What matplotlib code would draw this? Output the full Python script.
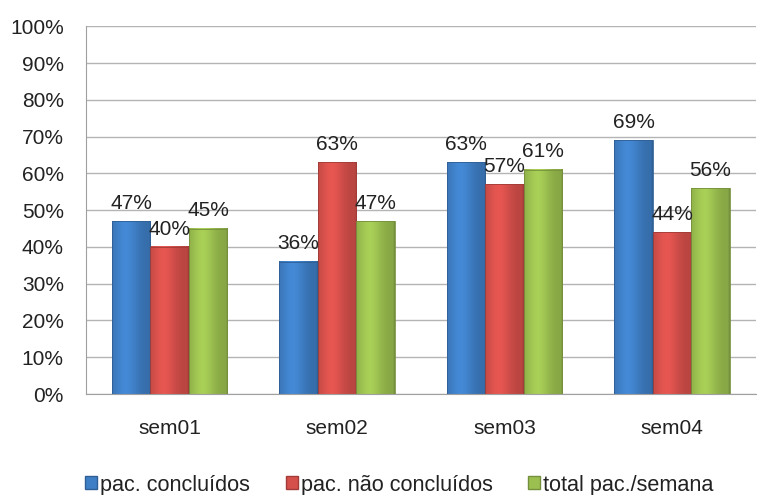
import matplotlib
matplotlib.use('agg')

import numpy as np
import matplotlib.pyplot as plt
import matplotlib.patches as pa
from matplotlib.colors import to_rgb

semanas = ['sem01', 'sem02', 'sem03', 'sem04']
concluidos = [47, 36, 63, 69]
nao_concluidos = [40, 63, 57, 44]
total_semana = [45, 47, 61, 56]

series = [
    ('pac. concluídos', concluidos, '#3f7fc6'),
    ('pac. não concluídos', nao_concluidos, '#d6504b'),
    ('total pac./semana', total_semana, '#9cc050'),
]

plt.rcParams['font.family'] = ['Liberation Sans', 'DejaVu Sans']
FS = 15


def shaded(color, n=60):
    # horizontal bevel: darker edges, light band left of centre
    base = np.array(to_rgb(color))
    t = np.linspace(0, 1, n)
    f = 0.86 + 0.22 * np.exp(-((t - 0.35) / 0.32) ** 2)
    f[:1] = 0.82
    f[-2:] = 0.76
    img = np.clip(base[None, :] * f[:, None], 0, 1)
    return img[None, :, :]


fig = plt.figure(figsize=(7.68, 4.95), dpi=100)
ax = fig.add_axes([0.112, 0.204, 0.872, 0.743])

x = np.arange(len(semanas))
w = 0.23
handles = []
for i, (name, vals, col) in enumerate(series):
    pos = x + (i - 1) * w
    edge = np.array(to_rgb(col)) * 0.75
    for xp, v in zip(pos, vals):
        ax.imshow(shaded(col), extent=[xp - w / 2, xp + w / 2, 0, v],
                  aspect='auto', zorder=2, interpolation='bilinear')
    ax.bar(pos, vals, w, facecolor='none', edgecolor=edge, lw=0.6, zorder=3)
    for xp, v in zip(pos, vals):
        ax.annotate('%d%%' % v, (xp, v), xytext=(0, 6), textcoords='offset points',
                    ha='center', va='bottom', fontsize=FS, color='#222222', zorder=4)
    handles.append(pa.Patch(facecolor=col, edgecolor=edge, label=name))

ax.set_xlim(-0.5, len(semanas) - 0.5)
ax.set_ylim(0, 100)
ax.set_yticks(np.arange(0, 101, 10))
ax.set_yticklabels(['%d%%' % t for t in range(0, 101, 10)])
ax.set_xticks(x)
ax.set_xticklabels(semanas)
ax.grid(axis='y', color='#b4b4b4', lw=1, zorder=0)
ax.set_axisbelow(True)

for s in ['top', 'right']:
    ax.spines[s].set_visible(False)
for s in ['left', 'bottom']:
    ax.spines[s].set_color('#a0a0a0')
ax.tick_params(axis='y', length=0, labelsize=FS, labelcolor='#222222', pad=16)
ax.tick_params(axis='x', length=0, labelsize=FS, labelcolor='#222222', pad=18)

fig.legend(handles=handles, loc='center', bbox_to_anchor=(0.520, 0.02),
           ncol=3, frameon=False, fontsize=15.6, handlelength=0.55,
           handleheight=0.55, handletextpad=0.14, columnspacing=1.66,
           labelcolor='#222222')

fig.savefig('out.png', dpi=100)
